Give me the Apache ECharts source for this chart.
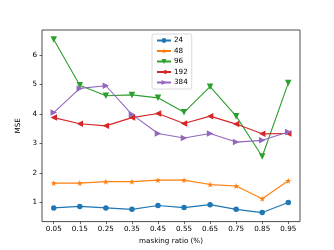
<!DOCTYPE html>
<html><head><meta charset="utf-8">
<script src="https://cdn.jsdelivr.net/npm/echarts@6/dist/echarts.min.js"></script>
<style>html,body{margin:0;padding:0;background:#fff}#c{width:334px;height:250px}</style>
</head><body><div id="c"></div>
<script>
const xValues = [0.05, 0.15, 0.25, 0.35, 0.45, 0.55, 0.65, 0.75, 0.85, 0.95];
const yTicks = [1, 2, 3, 4, 5, 6];
const seriesNames = ['24', '48', '96', '192', '384'];
const s24  = [0.82, 0.87, 0.82, 0.77, 0.90, 0.83, 0.93, 0.77, 0.66, 1.00];
const s48  = [1.66, 1.66, 1.71, 1.71, 1.76, 1.76, 1.61, 1.56, 1.13, 1.74];
const s96  = [6.53, 4.98, 4.62, 4.65, 4.55, 4.06, 4.93, 3.93, 2.56, 5.05];
const s192 = [3.88, 3.67, 3.60, 3.88, 4.02, 3.68, 3.93, 3.66, 3.33, 3.34];
const s384 = [4.05, 4.87, 4.96, 3.99, 3.34, 3.19, 3.34, 3.05, 3.11, 3.39];

const colors = ['#1f77b4', '#ff7f0e', '#2ca02c', '#d62728', '#9467bd'];
const star = 'path://M0,-10 L2.35,-3.24 9.51,-3.09 3.8,1.24 5.88,8.09 0,4 -5.88,8.09 -3.8,1.24 -9.51,-3.09 -2.35,-3.24 Z';
const tri = 'path://M0,-10 L8.66,5 -8.66,5 Z';
const markers = [
  {symbol: 'circle', rot: 0, size: 5.5},
  {symbol: star, rot: 0, size: 6},
  {symbol: tri, rot: 180, size: 6.5},
  {symbol: tri, rot: 90, size: 6.5},
  {symbol: tri, rot: -90, size: 6.5}
];
const allData = [s24, s48, s96, s192, s384];
const font = 'DejaVu Sans';

const chart = echarts.init(document.getElementById('c'), null, {renderer: 'canvas'});
chart.setOption({
  animation: false,
  grid: {left: 42, right: 34, top: 30, bottom: 28, show: true, borderColor: '#222', borderWidth: 0.8, backgroundColor: 'transparent'},
  legend: {
    left: 152, top: 34, orient: 'vertical',
    itemWidth: 14, itemHeight: 6, itemGap: 3.5,
    padding: [3, 4, 3, 4],
    borderColor: '#d0d0d0', borderWidth: 0.8, borderRadius: 2,
    backgroundColor: 'rgba(255,255,255,0.8)',
    textStyle: {fontFamily: font, fontSize: 7.2, color: '#000', padding: [0, 0, 0, -2]},
    data: seriesNames
  },
  xAxis: {
    type: 'value', min: 0.005, max: 0.995,
    name: 'masking ratio (%)', nameLocation: 'middle', nameGap: 14,
    nameTextStyle: {fontFamily: font, fontSize: 7.2, color: '#000'},
    axisLine: {show: false},
    axisTick: {show: true, length: 2.5, lineStyle: {color: '#000', width: 0.6}, customValues: xValues},
    axisLabel: {fontFamily: font, fontSize: 7.2, color: '#000', margin: 4.5, customValues: xValues,
      formatter: v => v.toFixed(2)},
    splitLine: {show: false}
  },
  yAxis: {
    type: 'value', min: 0.355, max: 6.85,
    name: 'MSE', nameLocation: 'middle', nameGap: 6, nameRotate: 90,
    nameTextStyle: {fontFamily: font, fontSize: 7.2, color: '#000', padding: [0, 0, 8, 0]},
    axisLine: {show: false},
    axisTick: {show: true, length: 2.5, lineStyle: {color: '#000', width: 0.6}, customValues: yTicks},
    axisLabel: {fontFamily: font, fontSize: 7.2, color: '#000', margin: 5, customValues: yTicks,
      formatter: v => String(Math.round(v))},
    splitLine: {show: false}
  },
  series: seriesNames.map((n, i) => ({
    name: n, type: 'line',
    data: xValues.map((x, j) => [x, allData[i][j]]),
    symbol: markers[i].symbol, symbolRotate: markers[i].rot, symbolSize: markers[i].size,
    showAllSymbol: true,
    lineStyle: {color: colors[i], width: 1.1},
    itemStyle: {color: colors[i], borderWidth: 0},
    emphasis: {disabled: true}
  }))
});
</script></body></html>
